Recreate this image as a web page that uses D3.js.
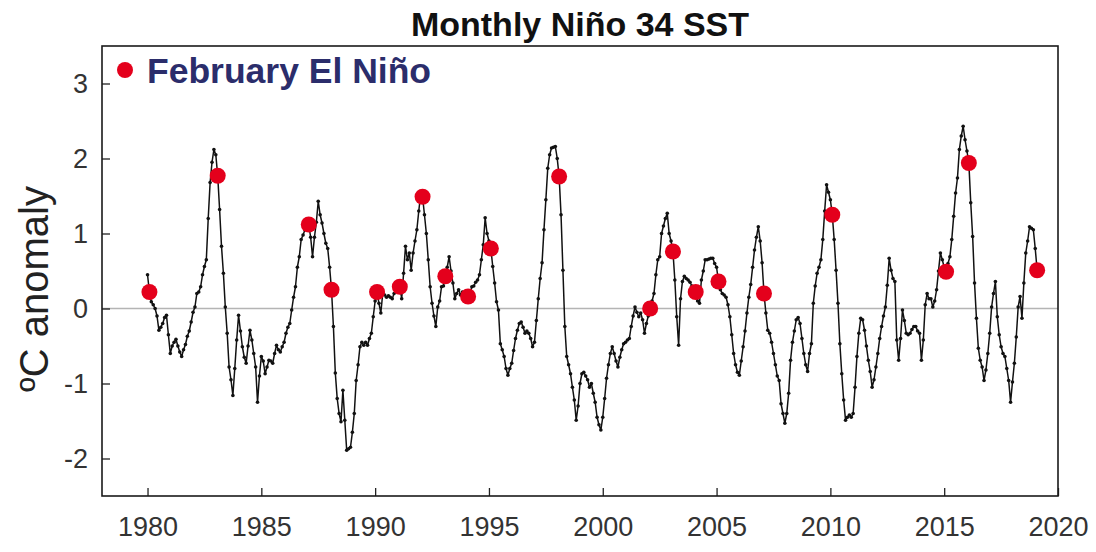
<!DOCTYPE html>
<html>
<head>
<meta charset="utf-8">
<script src="https://cdn.jsdelivr.net/npm/d3@7"></script>
<style>
  body { margin: 0; background: #fff; }
  svg text { font-family: "Liberation Sans", Arial, sans-serif; }
</style>
</head>
<body>
<svg id="chart" width="1096" height="552"></svg>
<script>
// Monthly Niño 3.4 SST anomalies (°C), January 1980 onward, one row per year
const startYear = 1980;

const anom1980s = [
  0.45, 0.22, 0.09, 0.05, 0.00, -0.10, -0.29, -0.25, -0.20, -0.12, -0.09, -0.35,
  -0.60, -0.50, -0.45, -0.41, -0.50, -0.58, -0.64, -0.55, -0.48, -0.37, -0.30, -0.18,
  -0.05, 0.02, 0.20, 0.22, 0.29, 0.45, 0.56, 0.65, 1.20, 1.68, 1.95, 2.12,
  2.05, 1.77, 1.32, 0.83, 0.47, 0.02, -0.33, -0.78, -0.95, -1.16, -0.80, -0.42,
  -0.09, -0.30, -0.51, -0.65, -0.73, -0.50, -0.29, -0.42, -0.60, -0.78, -1.25, -0.90,
  -0.64, -0.70, -0.87, -0.78, -0.69, -0.70, -0.73, -0.60, -0.49, -0.55, -0.58, -0.51,
  -0.45, -0.33, -0.25, -0.20, -0.02, 0.15, 0.29, 0.55, 0.69, 0.92, 0.98, 1.05,
  1.05, 1.12, 0.95, 0.69, 0.95, 1.15, 1.43, 1.25, 1.14, 1.00, 0.87, 0.80,
  0.55, 0.25, -0.24, -0.86, -1.20, -1.40, -1.51, -1.09, -1.49, -1.89, -1.87, -1.85,
  -1.65, -1.40, -0.96, -0.75, -0.51, -0.45, -0.49, -0.45, -0.49, -0.40, -0.33, -0.11
];

const anom1990s = [
  0.10, 0.22, 0.07, -0.06, 0.20, 0.18, 0.15, 0.17, 0.15, 0.13, 0.20, 0.25,
  0.30, 0.29, 0.13, 0.47, 0.83, 0.65, 0.74, 0.51, 0.74, 0.90, 1.05, 1.30,
  1.52, 1.49, 1.25, 1.00, 0.65, 0.29, 0.07, -0.10, -0.24, 0.02, 0.10, 0.29,
  0.30, 0.43, 0.55, 0.69, 0.50, 0.34, 0.13, 0.20, 0.25, 0.18, 0.22, 0.20,
  0.15, 0.16, 0.20, 0.29, 0.30, 0.35, 0.38, 0.45, 0.65, 0.85, 1.21, 1.00,
  0.90, 0.80, 0.56, 0.34, 0.09, -0.02, -0.47, -0.55, -0.64, -0.80, -0.89, -0.80,
  -0.73, -0.56, -0.40, -0.29, -0.20, -0.18, -0.25, -0.33, -0.30, -0.33, -0.40, -0.51,
  -0.45, -0.16, 0.13, 0.40, 0.61, 1.05, 1.45, 1.87, 2.05, 2.14, 2.15, 2.16,
  2.00, 1.76, 1.25, 0.51, -0.24, -0.64, -0.75, -0.87, -1.05, -1.22, -1.49, -1.30,
  -1.00, -0.87, -0.85, -0.90, -0.95, -1.05, -1.00, -1.13, -1.25, -1.45, -1.55, -1.62
];

const anom2000s = [
  -1.45, -1.20, -0.93, -0.75, -0.60, -0.51, -0.60, -0.70, -0.78, -0.65, -0.55, -0.47,
  -0.45, -0.42, -0.40, -0.24, -0.10, 0.02, -0.05, -0.11, -0.06, -0.15, -0.33, -0.20,
  -0.10, 0.00, 0.10, 0.20, 0.45, 0.65, 0.69, 1.00, 1.10, 1.20, 1.27, 1.00,
  0.90, 0.76, 0.38, -0.11, -0.49, 0.13, 0.36, 0.43, 0.40, 0.38, 0.35, 0.30,
  0.25, 0.22, 0.10, 0.07, 0.38, 0.50, 0.65, 0.65, 0.66, 0.67, 0.67, 0.60,
  0.55, 0.36, 0.25, 0.20, 0.18, 0.15, 0.05, -0.11, -0.35, -0.60, -0.75, -0.85,
  -0.89, -0.70, -0.51, -0.30, -0.06, 0.15, 0.32, 0.55, 0.78, 0.95, 1.09, 0.90,
  0.61, 0.20, -0.06, -0.29, -0.33, -0.45, -0.60, -0.75, -0.90, -0.96, -1.27, -1.40,
  -1.53, -1.40, -1.13, -0.69, -0.45, -0.30, -0.15, -0.12, -0.20, -0.40, -0.60, -0.75,
  -0.84, -0.60, -0.47, 0.07, 0.30, 0.47, 0.55, 0.65, 0.92, 1.30, 1.65, 1.55
];

const anom2010s = [
  1.45, 1.25, 0.92, 0.51, 0.07, -0.47, -0.87, -1.22, -1.49, -1.45, -1.42, -1.45,
  -1.40, -1.05, -0.64, -0.33, -0.13, -0.15, -0.29, -0.50, -0.69, -0.84, -1.05, -0.95,
  -0.78, -0.60, -0.40, -0.24, -0.10, 0.02, 0.31, 0.67, 0.51, 0.40, 0.36, -0.42,
  -0.69, -0.40, -0.02, -0.16, -0.33, -0.35, -0.33, -0.28, -0.24, -0.24, -0.30, -0.33,
  -0.69, -0.42, 0.05, 0.20, 0.13, 0.13, 0.02, 0.10, 0.25, 0.50, 0.74, 0.65,
  0.55, 0.49, 0.60, 0.69, 0.92, 1.23, 1.54, 1.74, 2.12, 2.30, 2.43, 2.25,
  2.10, 1.94, 1.41, 0.96, 0.34, -0.13, -0.53, -0.69, -0.78, -0.96, -0.82, -0.60,
  -0.33, 0.02, 0.20, 0.36, -0.11, -0.35, -0.51, -0.60, -0.64, -0.80, -0.96, -1.25,
  -0.98, -0.73, -0.38, 0.02, 0.16, -0.13, 0.34, 0.74, 0.90, 1.09, 1.07, 1.05,
  0.80, 0.51
];

// Years whose February falls in an El Niño
const elNinoYears = [1980, 1983, 1987, 1988, 1990, 1991, 1992, 1993, 1994, 1995,
                     1998, 2002, 2003, 2004, 2005, 2007, 2010, 2015, 2016, 2019];

const xTickValues = [1980, 1985, 1990, 1995, 2000, 2005, 2010, 2015, 2020];
const yTickValues = [-2, -1, 0, 1, 2, 3];

const titleText = "Monthly Niño 34 SST";
const legendText = "February El Niño";
const yAxisText = "ºC anomaly";

// ---- build the monthly series ----
const anomalies = [].concat(anom1980s, anom1990s, anom2000s, anom2010s);
const series = anomalies.map((v, i) => ({ t: startYear + i / 12, v }));
const febPoints = elNinoYears.map(yr => series[(yr - startYear) * 12 + 1]);

// ---- layout ----
const plotLeft = 102, plotRight = 1058, plotTop = 46, plotBottom = 496;
const svg = d3.select("#chart");

const x = d3.scaleLinear().domain([1978, 2020]).range([plotLeft, plotRight]);
const y = d3.scaleLinear().domain([-2.5, 3.5]).range([plotBottom, plotTop]);

svg.append("rect").attr("width", 1096).attr("height", 552).attr("fill", "#fff");

// zero reference line
svg.append("line")
  .attr("x1", plotLeft).attr("x2", plotRight)
  .attr("y1", y(0)).attr("y2", y(0))
  .attr("stroke", "#b4b4b4").attr("stroke-width", 1.5);

// axes with inward ticks; plain hyphen for negatives
const plainFormat = d => String(d);
const xAxis = svg.append("g")
  .attr("transform", `translate(0,${plotBottom})`)
  .call(d3.axisBottom(x).tickValues(xTickValues).tickFormat(plainFormat)
        .tickSize(-8).tickPadding(21));
const yAxis = svg.append("g")
  .attr("transform", `translate(${plotLeft},0)`)
  .call(d3.axisLeft(y).tickValues(yTickValues).tickFormat(plainFormat)
        .tickSize(-8).tickPadding(14));

[xAxis, yAxis].forEach(g => {
  g.select(".domain").remove();
  g.selectAll(".tick line").attr("stroke", "#222").attr("stroke-width", 1.3);
  g.selectAll(".tick text")
    .attr("fill", "#333")
    .style("font-size", "27px");
});

// plot frame
svg.append("rect")
  .attr("x", plotLeft).attr("y", plotTop)
  .attr("width", plotRight - plotLeft).attr("height", plotBottom - plotTop)
  .attr("fill", "none").attr("stroke", "#1a1a1a").attr("stroke-width", 1.6);

// monthly line with small markers
const line = d3.line().x(d => x(d.t)).y(d => y(d.v));
svg.append("path")
  .datum(series)
  .attr("d", line)
  .attr("fill", "none")
  .attr("stroke", "#111")
  .attr("stroke-width", 1.5)
  .attr("stroke-linejoin", "round");

svg.append("g").selectAll("circle")
  .data(series)
  .join("circle")
  .attr("cx", d => x(d.t))
  .attr("cy", d => y(d.v))
  .attr("r", 1.8)
  .attr("fill", "#111");

// February El Niño markers
svg.append("g").selectAll("circle")
  .data(febPoints)
  .join("circle")
  .attr("cx", d => x(d.t))
  .attr("cy", d => y(d.v))
  .attr("r", 8)
  .attr("fill", "#e4001c");

// title
svg.append("text")
  .attr("x", (plotLeft + plotRight) / 2).attr("y", 36)
  .attr("text-anchor", "middle")
  .attr("fill", "#111")
  .style("font-size", "34px").style("font-weight", "bold")
  .text(titleText);

// legend
svg.append("circle").attr("cx", 125).attr("cy", 70).attr("r", 8).attr("fill", "#e4001c");
svg.append("text")
  .attr("x", 147).attr("y", 83)
  .attr("fill", "#2b2d6b")
  .style("font-size", "35.5px").style("font-weight", "bold")
  .text(legendText);

// y-axis title
svg.append("text")
  .attr("transform", "translate(48,289) rotate(-90)")
  .attr("text-anchor", "middle")
  .attr("fill", "#222")
  .style("font-size", "40px")
  .text(yAxisText);
</script>
</body>
</html>
